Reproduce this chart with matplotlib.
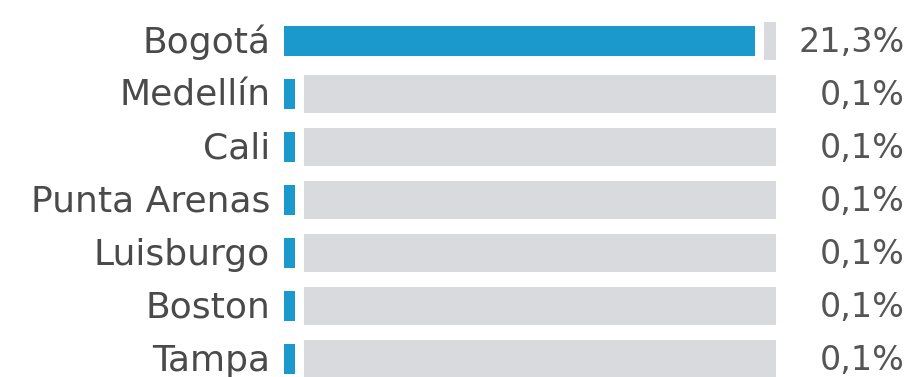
import matplotlib.pyplot as plt

# ciudades y porcentaje de visitas
cities = ["Bogotá", "Medellín", "Cali", "Punta Arenas", "Luisburgo", "Boston", "Tampa"]
shares = [21.3, 0.1, 0.1, 0.1, 0.1, 0.1, 0.1]
share_labels = ["21,3%", "0,1%", "0,1%", "0,1%", "0,1%", "0,1%", "0,1%"]

bar_color = "#1b98cc"
track_color = "#d9dade"
text_color = "#4a4a4a"

W, H = 909, 377
fig = plt.figure(figsize=(W / 100, H / 100), dpi=100)
ax = fig.add_axes([284 / W, 0, (776 - 284) / W, 1])

xmax = max(shares) * 492 / 471
min_w = 0.5   # ancho mínimo para que se vean las barras pequeñas
gap = 0.4

top, pitch = 41, 53.0
ax.set_xlim(0, xmax)
ax.set_ylim((H - top) / pitch, -top / pitch)
ax.axis("off")

ypos = list(range(len(cities)))
widths = [max(v, min_w) for v in shares]
track_left = [w + gap for w in widths]
track_w = [xmax - l for l in track_left]

ax.barh(ypos, track_w, left=track_left, height=0.70, color=track_color)
ax.barh(ypos, widths, height=0.58, color=bar_color)

font = "DejaVu Sans"
yt = ax.get_yaxis_transform()
for y, name, lab in zip(ypos, cities, share_labels):
    ax.text(-0.028, y + 0.03, name, transform=yt, ha="right", va="center",
            fontsize=26, color=text_color, family=font)
    ax.text(1.262, y + 0.03, lab, transform=yt, ha="right", va="center",
            fontsize=24, color="#555555", family=font)

fig.savefig("out.png", dpi=100)
